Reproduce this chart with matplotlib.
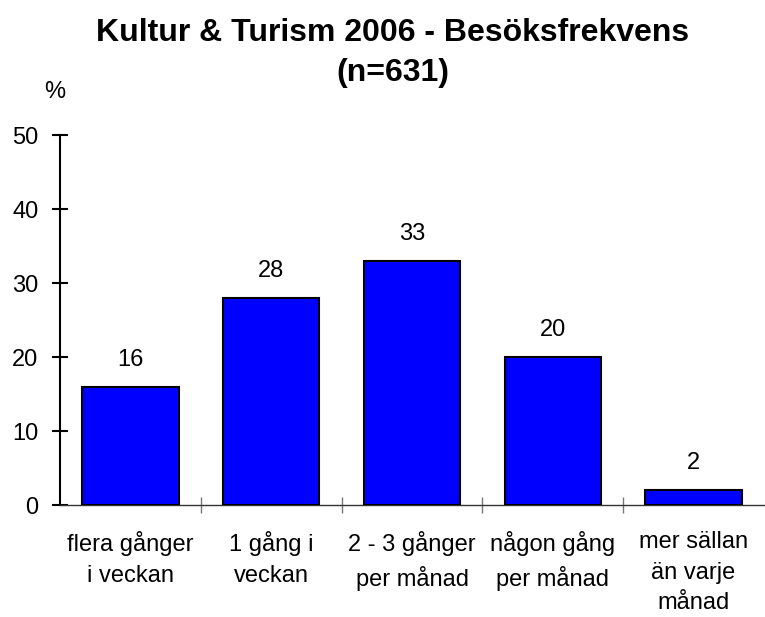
import matplotlib
matplotlib.use("Agg")
import matplotlib.pyplot as plt

categories = ["flera gånger\ni veckan", "1 gång i\nveckan", "2 - 3 gånger\nper månad",
              "någon gång\nper månad", "mer sällan\nän varje\nmånad"]
values = [16, 28, 33, 20, 2]
yticks = [0, 10, 20, 30, 40, 50]
title_line1 = "Kultur & Turism 2006 - Besöksfrekvens"
title_line2 = "(n=631)"

plt.rcParams['font.family'] = ['Liberation Sans', 'DejaVu Sans']

W, H = 765, 617
fig = plt.figure(figsize=(W/100, H/100), dpi=100)
left, right = 60/W, 764/W
bottom, top = 1-505/H, 1-135/H
ax = fig.add_axes([left, bottom, right-left, top-bottom])

x = list(range(len(values)))
ax.bar(x, values, width=0.685, color='#0000FF', edgecolor='black', linewidth=1.5, zorder=3)
ax.set_xlim(-0.5, len(values)-0.5)
ax.set_ylim(0, 50)
ax.set_yticks(yticks)
ax.set_yticklabels([str(t) for t in yticks], fontsize=17)
ax.tick_params(axis='y', direction='inout', length=12, width=1.5, pad=9.5)

for s in ['top', 'right']:
    ax.spines[s].set_visible(False)
ax.spines['left'].set_linewidth(1.5)
ax.spines['bottom'].set_linewidth(1.0)
ax.spines['bottom'].set_color('#333333')

# category boundary ticks
ax.set_xticks([i + 0.5 for i in x[:-1]])
ax.set_xticklabels([])
ax.tick_params(axis='x', direction='inout', length=11.5, width=1.0, color='#777777')
ax.set_xticks(x, minor=True)
ax.set_xticklabels(categories, minor=True, fontsize=17, linespacing=1.5)
ax.tick_params(axis='x', which='minor', length=0, pad=19)

for xi, v in zip(x, values):
    ax.annotate(str(v), (xi, v), xytext=(0, 19.5), textcoords='offset points',
                ha='center', va='center', fontsize=17)

fig.text(55/W, 1-92/H, "%", fontsize=17, ha='center', va='center')
fig.text(393/W, 1-33/H, title_line1, fontsize=23, fontweight='bold', ha='center', va='center')
fig.text(393/W, 1-73/H, title_line2, fontsize=23, fontweight='bold', ha='center', va='center')

fig.savefig("out.png", dpi=100)
